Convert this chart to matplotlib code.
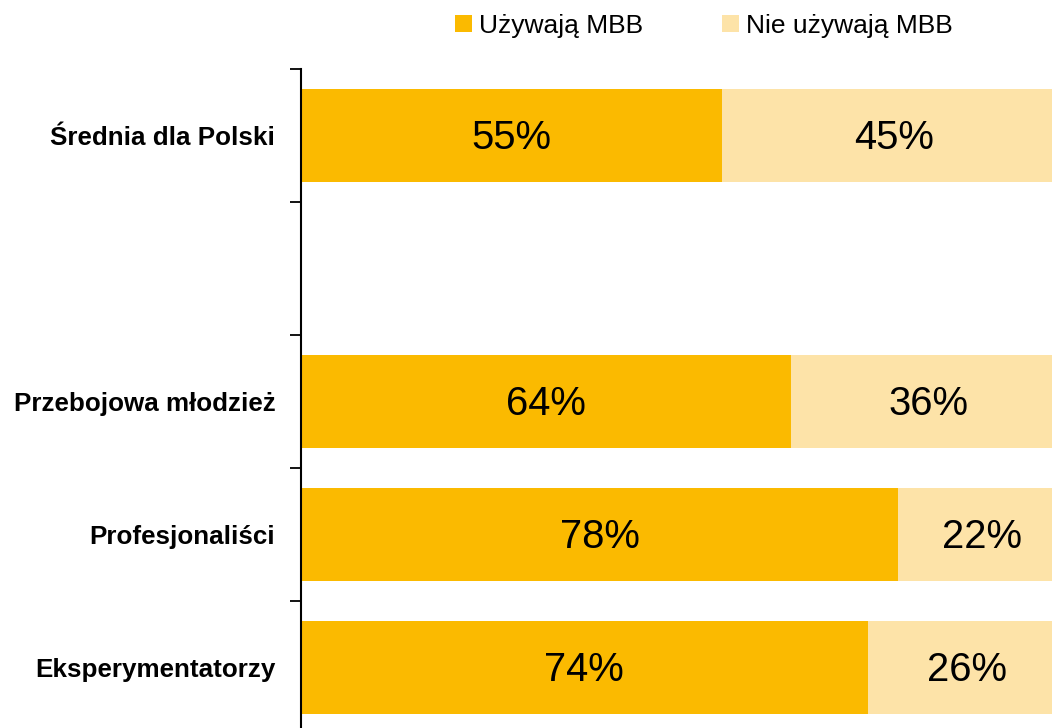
import matplotlib
matplotlib.use("Agg")
import matplotlib.pyplot as plt
import numpy as np
from matplotlib.patches import Patch

plt.rcParams['font.family'] = ['Liberation Sans', 'DejaVu Sans']

categories = ["Średnia dla Polski", "", "Przebojowa młodzież", "Profesjonaliści", "Eksperymentatorzy"]
uses = [55, None, 64, 78, 74]
not_uses = [45, None, 36, 22, 26]
series_names = ["Używają MBB", "Nie używają MBB"]
colors = ["#FBBA00", "#FDE3A8"]

fig = plt.figure(figsize=(10.52, 7.28), dpi=100)
ax = fig.add_axes([301/1052, -6/728, 1 - 301/1052, (728 - 69 + 6)/728])

y = np.arange(len(categories))
h = 0.7
for i, (u, n) in enumerate(zip(uses, not_uses)):
    if u is None:
        continue
    ax.barh(i, u, height=h, color=colors[0], left=0)
    ax.barh(i, n, height=h, color=colors[1], left=u)
    ax.annotate(f"{u}%", (u / 2, i), xytext=(0, -2), textcoords="offset points",
                ha="center", va="center", fontsize=28.8, color="black")
    ax.annotate(f"{n}%", (u + n / 2, i), xytext=(0, -2), textcoords="offset points",
                ha="center", va="center", fontsize=28.8, color="black", annotation_clip=False)

ax.set_xlim(0, 98.1)
ax.set_ylim(len(categories) - 0.5, -0.5)

ax.set_yticks(np.arange(-0.5, len(categories), 1.0))
ax.set_yticklabels([])
ax.tick_params(axis="y", which="major", length=8, width=1.3, direction="out")
ax.set_yticks(y, minor=True)
ax.set_yticklabels(categories, minor=True, fontsize=18.7, fontweight="bold")
ax.tick_params(axis="y", which="minor", length=0, pad=18.5)
ax.set_xticks([])

for s in ["top", "right", "bottom"]:
    ax.spines[s].set_visible(False)
ax.spines["left"].set_linewidth(1.5)

handles = [Patch(facecolor=colors[0], edgecolor="none"), Patch(facecolor=colors[1], edgecolor="none")]
fig.legend(handles, series_names, loc="center", bbox_to_anchor=(704/1052, 1 - 26/728),
           ncol=2, frameon=False, fontsize=19, handlelength=0.62, handleheight=0.62,
           handletextpad=0.27, columnspacing=3.0, borderpad=0)

fig.savefig("out.png", dpi=100)
